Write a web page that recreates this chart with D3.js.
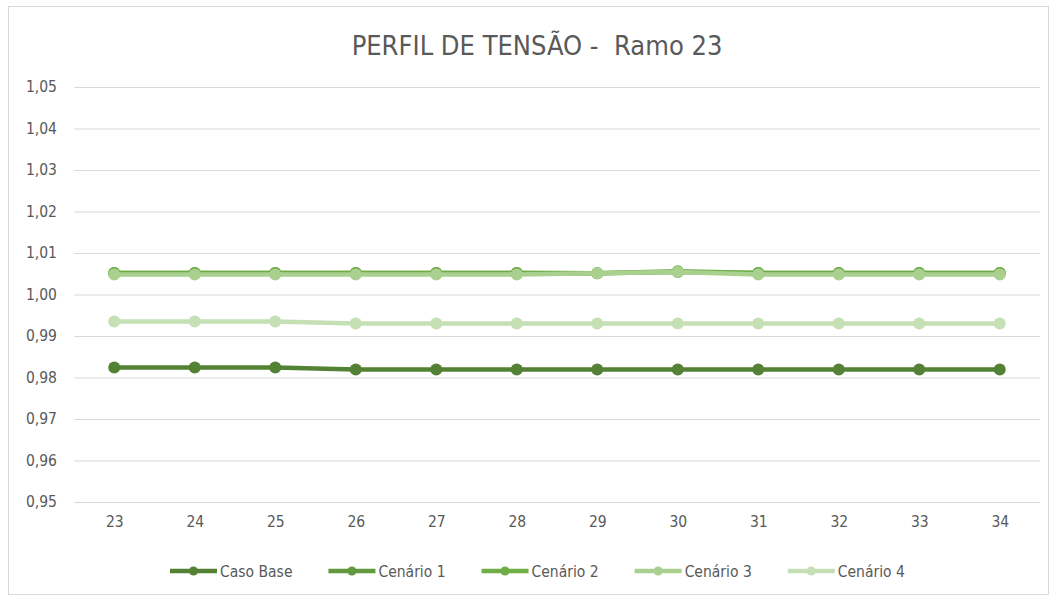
<!DOCTYPE html>
<html>
<head>
<meta charset="utf-8">
<script src="https://cdn.jsdelivr.net/npm/d3@7/dist/d3.min.js"></script>
<style>
  html, body { margin: 0; padding: 0; background: #fff; }
  svg text { font-family: "Liberation Sans Narrow", "DejaVu Sans Condensed", "Open Sans", sans-serif; fill: #595959; }
</style>
</head>
<body>
<svg id="chart" width="1056" height="601"></svg>
<script>
// Barras do ramo 23
const categories = ["23","24","25","26","27","28","29","30","31","32","33","34"];

// Tensão (p.u.) por cenário
const casoBase = [0.9824,0.9824,0.9824,0.9819,0.9819,0.9819,0.9819,0.9819,0.9819,0.9819,0.9819,0.9819];
const cenario1 = [1.0052,1.0052,1.0052,1.0052,1.0052,1.0052,1.0051,1.0054,1.0052,1.0052,1.0052,1.0052];
const cenario2 = [1.0052,1.0052,1.0052,1.0052,1.0052,1.0052,1.0051,1.0056,1.0052,1.0052,1.0052,1.0052];
const cenario3 = [1.0048,1.0048,1.0048,1.0048,1.0048,1.0048,1.0051,1.0054,1.0048,1.0048,1.0048,1.0048];
const cenario4 = [0.9935,0.9935,0.9935,0.9930,0.9930,0.9930,0.9930,0.9930,0.9930,0.9930,0.9930,0.9930];

const seriesNames = ["Caso Base","Cenário 1","Cenário 2","Cenário 3","Cenário 4"];
const seriesColors = ["#548235","#62993e","#70ad47","#a9d08e","#c5e0b4"];
const yTicks = [0.95,0.96,0.97,0.98,0.99,1.00,1.01,1.02,1.03,1.04,1.05];

const series = [casoBase, cenario1, cenario2, cenario3, cenario4].map((v, i) => ({
  name: seriesNames[i], color: seriesColors[i], values: v
}));

const svg = d3.select("#chart");

// moldura do gráfico
svg.append("rect")
  .attr("x", 8.5).attr("y", 6.5).attr("width", 1040).attr("height", 588)
  .attr("fill", "#fff").attr("stroke", "#d9d9d9");

const plot = { left: 74, right: 1040, top: 87, bottom: 502 };

const x = d3.scalePoint().domain(categories)
  .range([plot.left, plot.right]).padding(0.5);
const y = d3.scaleLinear().domain([0.95, 1.05]).range([plot.bottom, plot.top]);

const fmt = d => d3.format(".2f")(d).replace(".", ",");

// grade horizontal + rótulos do eixo Y
const yAxis = d3.axisLeft(y).tickValues(yTicks).tickFormat(fmt)
  .tickSize(-(plot.right - plot.left)).tickPadding(17);
const gy = svg.append("g").attr("transform", `translate(${plot.left},0)`).call(yAxis);
gy.select(".domain").remove();
gy.selectAll(".tick line").attr("stroke", "#d9d9d9").attr("stroke-width", 1);
gy.selectAll(".tick text").attr("font-size", 15.5).attr("fill", "#595959");

// eixo X
const xAxis = d3.axisBottom(x).tickSize(0).tickPadding(14);
const gx = svg.append("g").attr("transform", `translate(0,${plot.bottom})`).call(xAxis);
gx.select(".domain").remove();
gx.selectAll(".tick text").attr("font-size", 15.5).attr("fill", "#595959");

// linhas e marcadores
const line = d3.line().x((d, i) => x(categories[i])).y(d => y(d));
series.forEach(s => {
  const g = svg.append("g");
  g.append("path").datum(s.values)
    .attr("d", line).attr("fill", "none")
    .attr("stroke", s.color).attr("stroke-width", 4.5)
    .attr("stroke-linejoin", "round");
  g.selectAll("circle").data(s.values).enter().append("circle")
    .attr("cx", (d, i) => x(categories[i])).attr("cy", d => y(d))
    .attr("r", 6).attr("fill", s.color);
});

// título
svg.append("text").attr("x", 537).attr("y", 55)
  .attr("text-anchor", "middle").attr("font-size", 27).attr("fill", "#595959")
  .attr("xml:space", "preserve")
  .text("PERFIL DE TENSÃO -  Ramo 23");

// legenda
const legend = svg.append("g");
const items = legend.selectAll("g").data(series).enter().append("g");
items.append("line").attr("x1", 0).attr("x2", 47).attr("y1", 0).attr("y2", 0)
  .attr("stroke", d => d.color).attr("stroke-width", 4.5);
items.append("circle").attr("cx", 23.5).attr("cy", 0).attr("r", 4.5).attr("fill", d => d.color);
items.append("text").attr("x", 50).attr("y", 5.5).attr("font-size", 15.5).attr("fill", "#595959")
  .text(d => d.name);
const widths = [];
items.each(function() { widths.push(this.getBBox().width); });
// distribui as entradas entre x=170 e x=905
const span = 735;
const gap = (span - d3.sum(widths)) / (widths.length - 1);
let cursor = 0;
items.attr("transform", (d, i) => {
  const t = `translate(${cursor},0)`;
  cursor += widths[i] + gap;
  return t;
});
legend.attr("transform", `translate(170,571)`);
</script>
</body>
</html>
